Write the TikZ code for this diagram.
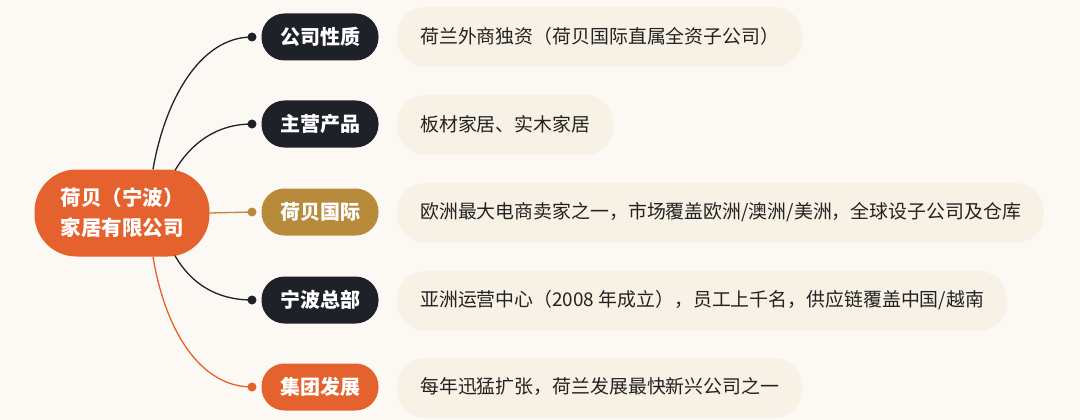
\documentclass[tikz,border=0pt]{standalone}
\usepackage{fontspec}
\setmainfont{Noto Sans CJK SC}
\usetikzlibrary{shadows}
\definecolor{bgpaper}{HTML}{FCF9F4}
\definecolor{rootorange}{HTML}{E5612E}
\definecolor{catdark}{HTML}{1E2128}
\definecolor{catgold}{HTML}{B88A3C}
\definecolor{descfill}{HTML}{F8F1E6}
\definecolor{inktext}{HTML}{222222}
\tikzset{
  rootbox/.style={fill=rootorange, text=white, rounded corners=42pt, minimum width=175pt, minimum height=87pt, align=center, font=\fontsize{20.5}{30}\selectfont\bfseries},
  catbox/.style={fill=catdark, text=white, rounded corners=23pt, minimum width=117pt, minimum height=47pt, inner xsep=0pt, font=\fontsize{20}{22}\selectfont\bfseries},
  descbox/.style={fill=descfill, text=inktext, rounded corners=28pt, minimum height=58pt, inner xsep=23pt, anchor=west, font=\fontsize{18.9}{22}\selectfont, drop shadow={opacity=0.05, shadow xshift=0pt, shadow yshift=-2pt}},
  branch/.style={line width=1.3pt, catdark},
  knob/.style={circle, fill=catdark, inner sep=0pt, minimum size=9pt}
}
\begin{document}
\begin{tikzpicture}[x=1pt, y=-1pt]
\useasboundingbox (0,0) rectangle (1080,420);
\fill[bgpaper] (0,0) rectangle (1080,420);

% centre
\node[rootbox] (root) at (122,213) {荷贝（宁波）\\家居有限公司};

% branch labels
\node[catbox] (cat1) at (320,37) {公司性质};
\node[catbox] (cat2) at (320,124) {主营产品};
\node[catbox, fill=catgold] (cat3) at (320,212) {荷贝国际};
\node[catbox] (cat4) at (320,300) {宁波总部};
\node[catbox, fill=rootorange] (cat5) at (320,387) {集团发展};

% knobs
\node[knob] (k1) at (252,37) {};
\node[knob] (k2) at (252,124) {};
\node[knob, fill=catgold] (k3) at (252,212) {};
\node[knob] (k4) at (252,300) {};
\node[knob, fill=rootorange] (k5) at (252,387) {};

% descriptions
\node[descbox] (desc1) at (397,36) {荷兰外商独资（荷贝国际直属全资子公司）};
\node[descbox] (desc2) at (397,124) {板材家居、实木家居};
\node[descbox] (desc3) at (397,212) {欧洲最大电商卖家之一，市场覆盖欧洲/澳洲/美洲，全球设子公司及仓库};
\node[descbox] (desc4) at (397,300) {亚洲运营中心（2008 年成立），员工上千名，供应链覆盖中国/越南};
\node[descbox] (desc5) at (397,387) {每年迅猛扩张，荷兰发展最快新兴公司之一};

% connectors
\draw[branch] ([xshift=31pt]root.north) .. controls (165,100) and (200,37) .. (k1.center);
\draw[branch] ([xshift=53pt,yshift=-1pt]root.north) .. controls (190,145) and (215,124) .. (k2.center);
\draw[branch, catgold] (root.east) -- (k3.center);
\draw[branch] ([xshift=53pt,yshift=1pt]root.south) .. controls (190,282) and (215,300) .. (k4.center);
\draw[branch, rootorange] ([xshift=31pt]root.south) .. controls (165,330) and (200,387) .. (k5.center);
\end{tikzpicture}
\end{document}
